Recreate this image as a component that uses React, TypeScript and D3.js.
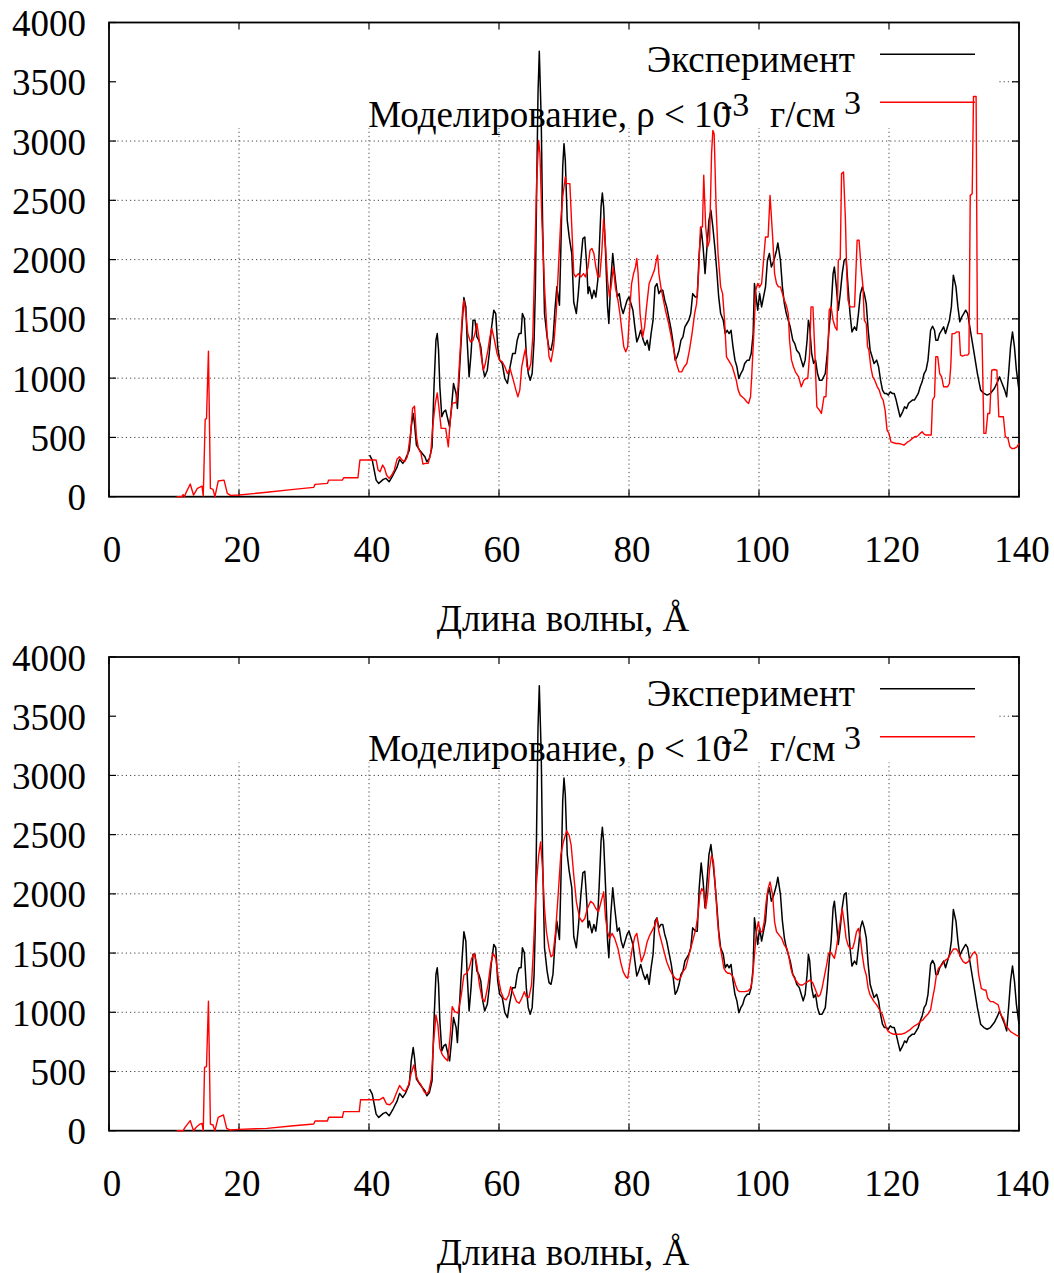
import React from 'react';
import * as d3 from 'd3';

const xTicks = [0, 20, 40, 60, 80, 100, 120, 140];
const yTicks = [0, 500, 1000, 1500, 2000, 2500, 3000, 3500, 4000];
const xLabel = 'Длина волны, Å';
const legendExperiment = 'Эксперимент';
const legendSimPrefix = 'Моделирование, ρ < 10';
const legendUnit = 'г/см';
const exponents = ['-3', '-2'];

const experiment: [number, number][] = [
  [40.1,351],[40.5,309],[41.1,140],[41.5,112],[42.2,146],[42.6,155],[43.1,126],[43.7,183],[44.3,247],[44.7,315],[45.2,281],[45.6,315],[46.2,393],[46.5,590],[46.8,702],[47.0,618],[47.3,435],[47.8,393],[48.2,365],[48.6,337],[48.9,295],[49.3,323],[49.7,421],[50.0,927],[50.3,1320],[50.5,1376],[50.7,1236],[50.9,927],[51.2,674],[51.5,716],[51.8,730],[52.1,660],[52.4,590],[52.7,758],[53.0,955],[53.4,871],[53.6,744],[53.9,1039],[54.3,1433],[54.6,1680],[54.9,1601],[55.1,1320],[55.4,1011],[55.7,1208],[56.0,1489],[56.3,1489],[56.6,1348],[56.9,1320],[57.2,1264],[57.5,1096],[57.8,1011],[58.2,1067],[58.5,1208],[58.8,1404],[59.2,1573],[59.5,1545],[59.8,1264],[60.1,1152],[60.5,1124],[60.9,997],[61.3,955],[61.6,1067],[62.1,1208],[62.5,1208],[62.8,1320],[63.1,1376],[63.4,1376],[63.6,1545],[63.9,1503],[64.2,1208],[64.5,1039],[64.8,983],[65.1,1039],[65.4,1320],[65.6,1770],[65.8,2612],[66.0,3399],[66.2,3758],[66.5,3174],[66.7,2331],[67.0,1545],[67.4,1348],[67.7,1250],[68.0,1236],[68.3,1320],[68.6,1573],[68.9,1770],[69.3,1615],[69.5,2051],[69.8,2781],[70.0,2978],[70.2,2837],[70.5,2331],[70.8,2191],[71.0,2120],[71.2,2051],[71.5,1640],[71.9,1545],[72.2,1713],[72.6,1994],[72.9,2177],[73.2,2191],[73.5,1938],[73.7,1713],[73.9,1770],[74.3,1671],[74.6,1741],[74.9,1685],[75.2,1826],[75.4,2051],[75.7,2444],[75.9,2562],[76.1,2444],[76.4,2051],[76.7,1601],[76.9,1461],[77.2,1826],[77.5,2051],[77.8,1882],[78.2,1685],[78.5,1713],[78.8,1601],[79.1,1545],[79.4,1601],[79.7,1657],[80.0,1685],[80.3,1629],[80.6,1573],[80.9,1433],[81.2,1306],[81.5,1348],[81.8,1404],[82.2,1320],[82.5,1278],[82.8,1320],[83.1,1236],[83.4,1376],[83.7,1489],[84.0,1770],[84.3,1798],[84.6,1713],[84.9,1741],[85.2,1741],[85.5,1657],[85.8,1601],[86.2,1489],[86.5,1404],[86.8,1292],[87.1,1152],[87.4,1180],[87.7,1236],[88.0,1320],[88.3,1348],[88.6,1433],[88.9,1461],[89.2,1489],[89.5,1545],[89.8,1713],[90.2,1685],[90.5,1685],[90.8,2051],[91.1,2261],[91.4,2107],[91.7,1882],[92.0,2107],[92.3,2331],[92.6,2416],[92.9,2275],[93.2,2107],[93.5,1910],[93.8,1685],[94.1,1545],[94.5,1489],[94.8,1376],[95.1,1404],[95.4,1376],[95.7,1404],[96.0,1264],[96.3,1152],[96.6,1096],[96.9,997],[97.2,1039],[97.5,1067],[97.8,1124],[98.2,1152],[98.5,1152],[98.8,1208],[99.1,1376],[99.3,1798],[99.5,1713],[99.8,1573],[100.1,1713],[100.4,1601],[100.7,1685],[101.0,1770],[101.3,1994],[101.6,2051],[101.9,1938],[102.3,1994],[102.7,2079],[102.9,2141],[103.3,1994],[103.6,1770],[103.9,1629],[104.2,1545],[104.5,1489],[104.8,1433],[105.2,1320],[105.5,1292],[105.8,1236],[106.2,1208],[106.5,1152],[106.8,1096],[107.1,1152],[107.4,1320],[107.6,1489],[107.8,1433],[108.1,1208],[108.4,1124],[108.7,1152],[109.0,1039],[109.3,983],[109.7,983],[110.2,1039],[110.5,1208],[110.8,1433],[111.1,1601],[111.4,1882],[111.6,1938],[111.9,1770],[112.2,1573],[112.5,1713],[112.8,1882],[113.1,1994],[113.4,2009],[113.7,1770],[114.0,1545],[114.3,1390],[114.7,1433],[115.0,1404],[115.3,1545],[115.6,1713],[115.9,1770],[116.2,1713],[116.5,1629],[116.8,1404],[117.1,1236],[117.4,1180],[117.7,1124],[118.1,1152],[118.4,1096],[118.7,983],[119.0,899],[119.3,871],[119.6,871],[119.9,857],[120.2,885],[120.5,871],[120.8,871],[121.1,815],[121.4,744],[121.7,674],[122.1,716],[122.4,758],[122.7,744],[123.0,787],[123.3,801],[123.6,815],[123.9,815],[124.2,843],[124.5,871],[124.8,927],[125.1,969],[125.4,1039],[125.7,1067],[126.0,1152],[126.4,1404],[126.7,1438],[127.0,1404],[127.2,1320],[127.5,1320],[127.8,1376],[128.1,1404],[128.4,1433],[128.7,1376],[129.0,1433],[129.3,1489],[129.6,1601],[129.9,1868],[130.3,1770],[130.6,1601],[130.9,1475],[131.2,1517],[131.5,1545],[131.8,1573],[132.1,1545],[132.6,1376],[133.1,1208],[133.6,1039],[134.1,899],[134.6,871],[135.1,857],[135.6,871],[136.2,913],[136.7,969],[137.0,1011],[137.4,955],[137.8,899],[138.1,843],[138.4,1039],[138.7,1264],[139.0,1390],[139.3,1264],[139.6,1067],[140.0,899]
];

const simulation3: [number, number][] = [
  [10.4,0],[11.2,0],[11.4,17],[11.6,0],[11.8,28],[12.5,107],[13.0,14],[13.6,70],[14.3,90],[14.5,6],[14.8,652],[15.0,658],[15.3,1228],[15.6,70],[16.0,62],[16.3,0],[16.8,132],[17.7,140],[18.2,28],[18.7,11],[20.0,14],[24.3,37],[28.4,62],[31.5,79],[31.7,104],[33.6,112],[33.8,140],[35.9,140],[36.1,160],[38.3,160],[38.6,309],[41.1,309],[41.4,225],[41.7,211],[42.1,267],[42.4,239],[42.7,183],[43.1,155],[43.5,183],[43.9,225],[44.3,315],[44.7,337],[45.1,309],[45.5,295],[45.9,337],[46.4,534],[46.7,744],[47.0,764],[47.3,506],[47.6,407],[48.0,365],[48.3,275],[48.7,281],[49.1,281],[49.5,365],[49.8,590],[50.2,787],[50.5,876],[50.8,730],[51.1,576],[51.5,576],[51.8,576],[52.2,421],[52.5,646],[52.8,787],[53.1,792],[53.4,792],[53.7,927],[54.0,1208],[54.4,1573],[54.6,1657],[54.9,1545],[55.2,1376],[55.6,1306],[56.0,1320],[56.3,1376],[56.6,1461],[56.9,1348],[57.2,1208],[57.6,1067],[57.9,1124],[58.3,1236],[58.6,1348],[58.9,1419],[59.3,1320],[59.7,1208],[60.1,1152],[60.5,1138],[60.9,1096],[61.3,1039],[61.7,1081],[62.2,983],[62.6,899],[62.9,843],[63.2,899],[63.5,1096],[63.9,1208],[64.1,1250],[64.3,1096],[64.6,1067],[64.9,1124],[65.2,1348],[65.5,1994],[65.8,2669],[66.1,3006],[66.3,2893],[66.6,2331],[67.0,1770],[67.4,1376],[67.7,1180],[68.0,1138],[68.4,1264],[68.8,1545],[69.2,1994],[69.5,2331],[69.8,2528],[70.2,2697],[70.4,2641],[70.9,2641],[71.2,2275],[71.5,1882],[71.8,1854],[72.2,1882],[72.6,1854],[73.0,1882],[73.3,1854],[73.7,1938],[74.0,2079],[74.3,2093],[74.6,2051],[74.9,1938],[75.2,1854],[75.5,1854],[75.8,2051],[76.1,2346],[76.4,2107],[76.7,1826],[77.0,1685],[77.3,1798],[77.6,1938],[77.9,1770],[78.3,1657],[78.6,1545],[78.9,1404],[79.2,1264],[79.5,1222],[79.8,1264],[80.1,1573],[80.4,1798],[80.7,1882],[81.0,1938],[81.2,2009],[81.4,1882],[81.7,1545],[82.1,1348],[82.4,1433],[82.7,1601],[83.1,1798],[83.5,1854],[83.9,1910],[84.2,1994],[84.4,2037],[84.6,1882],[84.9,1770],[85.2,1685],[85.6,1573],[86.1,1461],[86.5,1348],[86.9,1236],[87.3,1124],[87.7,1053],[88.1,1053],[88.5,1096],[88.9,1124],[89.3,1236],[89.7,1376],[90.1,1545],[90.4,1629],[90.7,1882],[91.0,2275],[91.3,2275],[91.5,2711],[91.8,2275],[92.1,2107],[92.4,2163],[92.7,2893],[92.9,3090],[93.1,3062],[93.4,2444],[93.7,2051],[94.1,1770],[94.4,1713],[94.7,1489],[95.0,1180],[95.3,1152],[95.6,1124],[95.9,1096],[96.2,1039],[96.5,983],[96.8,899],[97.1,857],[97.4,843],[97.7,829],[98.1,801],[98.4,787],[98.7,843],[98.9,1039],[99.1,1264],[99.3,1489],[99.5,1741],[99.8,1798],[100.1,1770],[100.4,1798],[100.7,1994],[101.0,2191],[101.4,2191],[101.7,2542],[102.1,2191],[102.4,1882],[102.7,1798],[103.0,1770],[103.3,1770],[103.6,1713],[103.9,1657],[104.2,1615],[104.5,1545],[104.7,1320],[105.0,1152],[105.3,1096],[105.6,1053],[106.1,1011],[106.5,927],[106.9,983],[107.2,997],[107.5,997],[107.8,1208],[108.0,1601],[108.3,1601],[108.6,1208],[108.9,758],[109.3,730],[109.6,702],[110.0,843],[110.3,843],[110.6,1208],[110.8,1573],[111.1,1601],[111.4,1489],[111.7,1433],[112.0,1404],[112.2,1994],[112.5,2009],[112.7,2725],[113.0,2739],[113.3,2331],[113.5,1882],[113.7,1657],[114.0,1601],[114.3,1601],[114.7,1601],[114.9,1882],[115.1,2163],[115.4,2163],[115.7,1938],[116.0,1770],[116.2,1489],[116.5,1461],[116.7,1264],[116.9,1236],[117.2,1096],[117.5,1011],[117.8,983],[118.2,927],[118.5,899],[118.8,843],[119.1,815],[119.4,730],[119.7,562],[120.0,534],[120.3,463],[120.7,455],[121.1,449],[121.5,449],[121.9,444],[122.3,435],[122.6,449],[122.9,463],[123.2,472],[123.6,492],[124.0,506],[124.4,511],[124.8,534],[125.1,548],[125.4,528],[125.7,520],[126.2,520],[126.5,520],[126.7,815],[127.0,843],[127.2,1180],[127.5,1180],[127.8,1039],[128.1,1011],[128.4,927],[128.7,927],[129.0,927],[129.3,955],[129.5,1096],[129.7,1376],[130.1,1376],[130.4,1390],[130.8,1390],[131.0,1194],[131.3,1186],[131.7,1194],[132.1,1194],[132.3,1208],[132.5,2542],[132.8,2556],[133.0,3376],[133.4,3376],[133.6,1376],[133.8,1376],[134.3,1376],[134.6,534],[134.9,534],[135.2,702],[135.5,702],[135.8,1067],[136.2,1073],[136.6,1067],[136.9,674],[137.2,674],[137.6,674],[137.9,506],[138.3,492],[138.6,421],[138.9,407],[139.3,407],[139.7,421],[140.0,449]
];

const simulation2: [number, number][] = [
  [10.4,0],[11.4,0],[11.7,28],[12.5,85],[13.0,0],[13.5,34],[14.0,56],[14.3,62],[14.5,0],[14.7,534],[15.0,542],[15.3,1093],[15.6,56],[16.0,48],[16.3,0],[16.8,113],[17.6,133],[18.1,20],[18.6,6],[20.0,11],[24.3,20],[28.4,42],[31.5,56],[31.7,82],[33.6,82],[33.8,113],[35.9,113],[36.1,161],[38.5,161],[38.7,261],[41.6,261],[42.2,281],[42.7,225],[43.2,219],[43.7,247],[44.2,317],[44.7,382],[45.2,345],[45.6,331],[46.1,388],[46.5,486],[46.9,556],[47.2,472],[47.6,416],[48.0,388],[48.4,337],[48.8,309],[49.2,331],[49.6,444],[49.9,725],[50.3,978],[50.6,893],[50.9,697],[51.3,640],[51.7,612],[52.1,590],[52.5,809],[52.8,1048],[53.2,1006],[53.7,992],[54.2,1146],[54.6,1315],[55.0,1329],[55.4,1371],[55.8,1455],[56.2,1497],[56.6,1399],[57.0,1230],[57.4,1118],[57.8,1090],[58.3,1230],[58.7,1399],[59.1,1497],[59.5,1455],[59.9,1287],[60.3,1174],[60.7,1118],[61.1,1104],[61.5,1146],[61.8,1216],[62.3,1146],[62.7,1090],[63.1,1076],[63.5,1118],[63.9,1174],[64.2,1132],[64.6,1124],[65.0,1230],[65.3,1539],[65.7,2045],[66.1,2326],[66.4,2438],[66.7,2213],[67.0,1876],[67.3,1680],[67.7,1539],[68.0,1469],[68.3,1483],[68.7,1680],[69.1,1989],[69.5,2326],[69.9,2438],[70.4,2531],[70.8,2494],[71.1,2410],[71.5,2157],[71.9,1933],[72.4,1800],[72.8,1764],[73.2,1792],[73.6,1876],[74.1,1938],[74.5,1919],[74.9,1876],[75.3,1848],[75.7,1933],[76.1,2017],[76.4,1792],[76.7,1680],[77.0,1624],[77.4,1666],[77.8,1624],[78.3,1539],[78.7,1427],[79.1,1343],[79.5,1301],[79.8,1287],[80.1,1399],[80.5,1539],[80.9,1638],[81.2,1666],[81.5,1567],[81.9,1427],[82.4,1497],[82.8,1596],[83.2,1652],[83.6,1694],[84.0,1736],[84.3,1792],[84.6,1680],[85.0,1596],[85.4,1511],[85.8,1427],[86.3,1357],[86.7,1315],[87.1,1287],[87.5,1273],[87.9,1287],[88.3,1343],[88.7,1371],[89.1,1455],[89.5,1539],[89.9,1624],[90.3,1708],[90.6,1820],[90.9,1989],[91.2,2045],[91.5,2017],[91.8,1876],[92.1,1989],[92.4,2213],[92.7,2326],[93.0,2269],[93.3,2045],[93.6,1792],[93.9,1596],[94.3,1469],[94.6,1371],[94.9,1343],[95.2,1329],[95.5,1329],[95.8,1315],[96.1,1287],[96.4,1230],[96.7,1188],[97.0,1174],[97.4,1174],[97.8,1174],[98.3,1180],[98.7,1202],[99.0,1287],[99.3,1483],[99.6,1680],[99.9,1764],[100.2,1680],[100.5,1680],[100.8,1764],[101.1,1933],[101.4,2045],[101.7,2101],[102.1,1989],[102.4,1764],[102.7,1680],[103.1,1652],[103.5,1624],[103.9,1567],[104.3,1539],[104.6,1469],[104.9,1371],[105.2,1315],[105.6,1273],[106.0,1245],[106.3,1230],[106.7,1230],[107.1,1245],[107.5,1259],[107.9,1273],[108.3,1245],[108.7,1188],[109.1,1132],[109.4,1146],[109.7,1202],[110.1,1315],[110.4,1399],[110.7,1497],[111.0,1511],[111.3,1483],[111.6,1455],[111.9,1539],[112.2,1652],[112.5,1764],[112.8,1876],[113.1,1764],[113.4,1624],[113.7,1567],[114.0,1539],[114.4,1539],[114.7,1596],[115.0,1680],[115.3,1708],[115.6,1624],[115.9,1483],[116.2,1371],[116.5,1315],[116.8,1202],[117.1,1146],[117.4,1118],[117.7,1090],[118.1,1062],[118.4,1034],[118.7,1006],[119.0,978],[119.3,921],[119.6,865],[119.9,837],[120.3,823],[120.7,815],[121.1,815],[121.5,815],[121.9,815],[122.4,823],[122.8,837],[123.2,851],[123.6,871],[124.0,888],[124.4,899],[124.8,921],[125.2,935],[125.6,963],[126.1,992],[126.4,1020],[126.7,1118],[127.0,1202],[127.3,1315],[127.6,1371],[127.9,1385],[128.3,1413],[128.7,1441],[129.1,1455],[129.5,1497],[129.9,1534],[130.4,1534],[130.8,1497],[131.1,1455],[131.4,1427],[131.8,1413],[132.2,1427],[132.6,1469],[132.9,1497],[133.2,1511],[133.5,1483],[133.8,1315],[134.2,1202],[134.6,1188],[134.9,1188],[135.2,1118],[135.6,1090],[136.0,1090],[136.4,1076],[136.8,1062],[137.2,978],[137.6,949],[137.9,893],[138.3,865],[138.7,837],[139.1,823],[139.5,809],[140.0,795]
];

const simulations = [simulation3, simulation2];

const FONT = '"Liberation Serif", "Times New Roman", serif';
const FS = 37;
const FS_SUP = 34;
const X_LEFT = 109;
const X_RIGHT = 1019;
const PANEL_TOP = [22.5, 657];
const PANEL_BOTTOM = [496.7, 1130.7];

function Panel({ idx }: { idx: number }) {
  const top = PANEL_TOP[idx];
  const bottom = PANEL_BOTTOM[idx];
  const off = top - PANEL_TOP[0];
  const x = d3.scaleLinear().domain([0, 140]).range([X_LEFT, X_RIGHT]);
  const y = d3.scaleLinear().domain([0, 4000]).range([bottom, top]);
  const line = d3.line<[number, number]>().x(d => x(d[0])).y(d => y(d[1]));
  const sim = simulations[idx];
  const tick = 7;
  const gridColor = '#444';
  return (
    <g>
      {yTicks.filter(v => v > 0 && v < 4000).map(v => (
        <line key={'gy' + v} x1={X_LEFT} x2={X_RIGHT} y1={y(v)} y2={y(v)} stroke={gridColor} strokeWidth={1} strokeDasharray="1.2,3" />
      ))}
      {xTicks.filter(v => v > 0 && v < 140).map(v => (
        <line key={'gx' + v} x1={x(v)} x2={x(v)} y1={top} y2={bottom} stroke={gridColor} strokeWidth={1} strokeDasharray="1.2,3" />
      ))}
      <rect x={X_LEFT} y={top} width={997 - X_LEFT} height={128 - 22.5} fill="#fff" />
      {yTicks.map(v => (
        <g key={'ty' + v}>
          <line x1={X_LEFT} x2={X_LEFT + tick} y1={y(v)} y2={y(v)} stroke="#000" strokeWidth={1.2} />
          <line x1={X_RIGHT} x2={X_RIGHT - tick} y1={y(v)} y2={y(v)} stroke="#000" strokeWidth={1.2} />
          <text x={86} y={y(v) + 13.5} textAnchor="end" fontFamily={FONT} fontSize={FS} fill="#000">{v}</text>
        </g>
      ))}
      {xTicks.map(v => (
        <g key={'tx' + v}>
          <line x1={x(v)} x2={x(v)} y1={bottom} y2={bottom - tick} stroke="#000" strokeWidth={1.2} />
          <line x1={x(v)} x2={x(v)} y1={top} y2={top + tick} stroke="#000" strokeWidth={1.2} />
          <text x={x(v) + 3} y={bottom + 65} textAnchor="middle" fontFamily={FONT} fontSize={FS} fill="#000">{v}</text>
        </g>
      ))}
      <rect x={X_LEFT} y={top} width={X_RIGHT - X_LEFT} height={bottom - top} fill="none" stroke="#000" strokeWidth={1.8} />
      <text x={563} y={bottom + 134} textAnchor="middle" fontFamily={FONT} fontSize={FS} fill="#000">{xLabel}</text>
      <text x={855} y={71.5 + off} textAnchor="end" fontFamily={FONT} fontSize={FS} fill="#000">{legendExperiment}</text>
      <line x1={880} x2={975} y1={54.3 + off} y2={54.3 + off} stroke="#000" strokeWidth={1.4} />
      <text x={731} y={126.5 + off} textAnchor="end" fontFamily={FONT} fontSize={FS} fill="#000">{legendSimPrefix}</text>
      <text x={721} y={116 + off} fontFamily={FONT} fontSize={FS_SUP} fill="#000">{exponents[idx]}</text>
      <text x={770} y={126.5 + off} fontFamily={FONT} fontSize={FS} fill="#000">{legendUnit}</text>
      <text x={844} y={114 + off} fontFamily={FONT} fontSize={FS_SUP} fill="#000">3</text>
      <line x1={880} x2={975} y1={102.3 + off} y2={102.3 + off} stroke="#f00" strokeWidth={1.4} />
      <path d={line(experiment) || ''} fill="none" stroke="#000" strokeWidth={1.5} strokeLinejoin="round" />
      <path d={line(sim) || ''} fill="none" stroke="#f00" strokeWidth={1.4} strokeLinejoin="round" />
    </g>
  );
}

export default function App() {
  return (
    <svg width={1054} height={1273} style={{ position: 'absolute', left: 0, top: 0, background: '#fff' }}>
      <rect x={0} y={0} width={1054} height={1273} fill="#fff" />
      <Panel idx={0} />
      <Panel idx={1} />
    </svg>
  );
}
